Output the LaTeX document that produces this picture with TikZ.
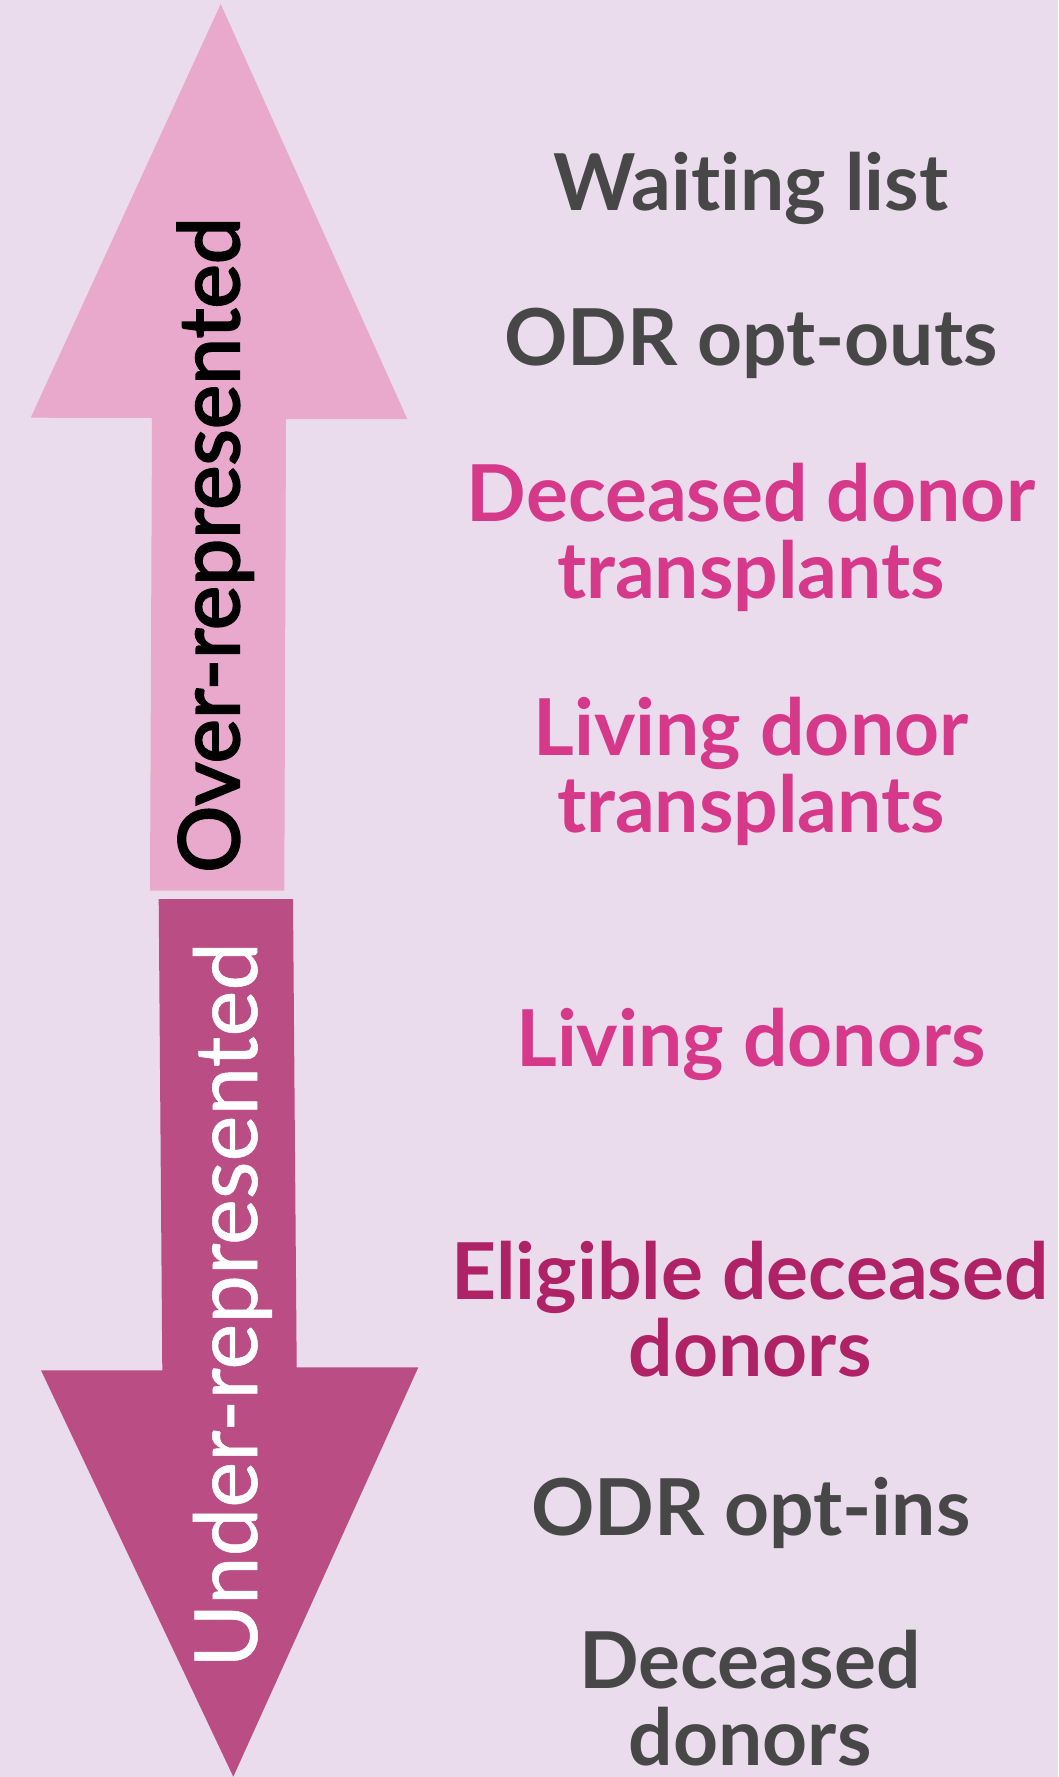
\documentclass[tikz,border=0pt]{standalone}
\usepackage{fontspec}
\setmainfont{Lato}[Ligatures=NoCommon]
\newfontfamily\overfont{Lato}[FakeBold=2.5,Ligatures=NoCommon]
\newfontfamily\underfont{Lato}[FakeBold=0.6,Ligatures=NoCommon]
\definecolor{bgc}{HTML}{EADCED}
\definecolor{upc}{HTML}{E9A9CD}
\definecolor{downc}{HTML}{BB4D85}
\definecolor{grayt}{HTML}{474747}
\definecolor{pinkt}{HTML}{D6398A}
\definecolor{magt}{HTML}{AF2266}
\begin{document}
\begin{tikzpicture}[x=1pt,y=-1pt,
  lbl/.style={font=\fontsize{78.5}{77}\selectfont\bfseries, align=center, inner sep=0pt, anchor=base},
  vlbl/.style={inner sep=0pt, rotate=90, anchor=base west}]
\fill[bgc] (0,0) rectangle (1058,1777);
\useasboundingbox (0,0) rectangle (1058,1777);
\fill[upc] (220.7,4) -- (407.3,419) -- (286,419) -- (284.3,890.7) -- (150,890.7) -- (152,418) -- (30.7,417.7) -- cycle;
\fill[downc] (158.7,899) -- (293,899) -- (296.7,1367.3) -- (418.3,1367.3) -- (233.3,1776.7) -- (41,1370.3) -- (162.3,1370.3) -- cycle;
\node[vlbl, text=black, font=\fontsize{84}{90}\overfont] (over) at (239,873) {Over-represented};
\node[vlbl, text=white, font=\fontsize{87}{90}\underfont] (under) at (257,1668) {Under-represented};
\node[lbl, text=grayt] (wait) at (751,210) {Waiting list};
\node[lbl, text=grayt] (optout) at (751,365) {ODR opt-outs};
\node[lbl, text=pinkt] (ddt) at (751,598) {Deceased donor\\transplants};
\node[lbl, text=pinkt] (ldt) at (751,832) {Living donor\\transplants};
\node[lbl, text=pinkt] (ld) at (751,1066) {Living donors};
\node[lbl, text=magt] (edd) at (750,1376) {Eligible deceased\\donors};
\node[lbl, text=grayt] (optin) at (751,1535) {ODR opt-ins};
\node[lbl, text=grayt] (dd) at (750,1765) {Deceased\\donors};
\end{tikzpicture}
\end{document}
